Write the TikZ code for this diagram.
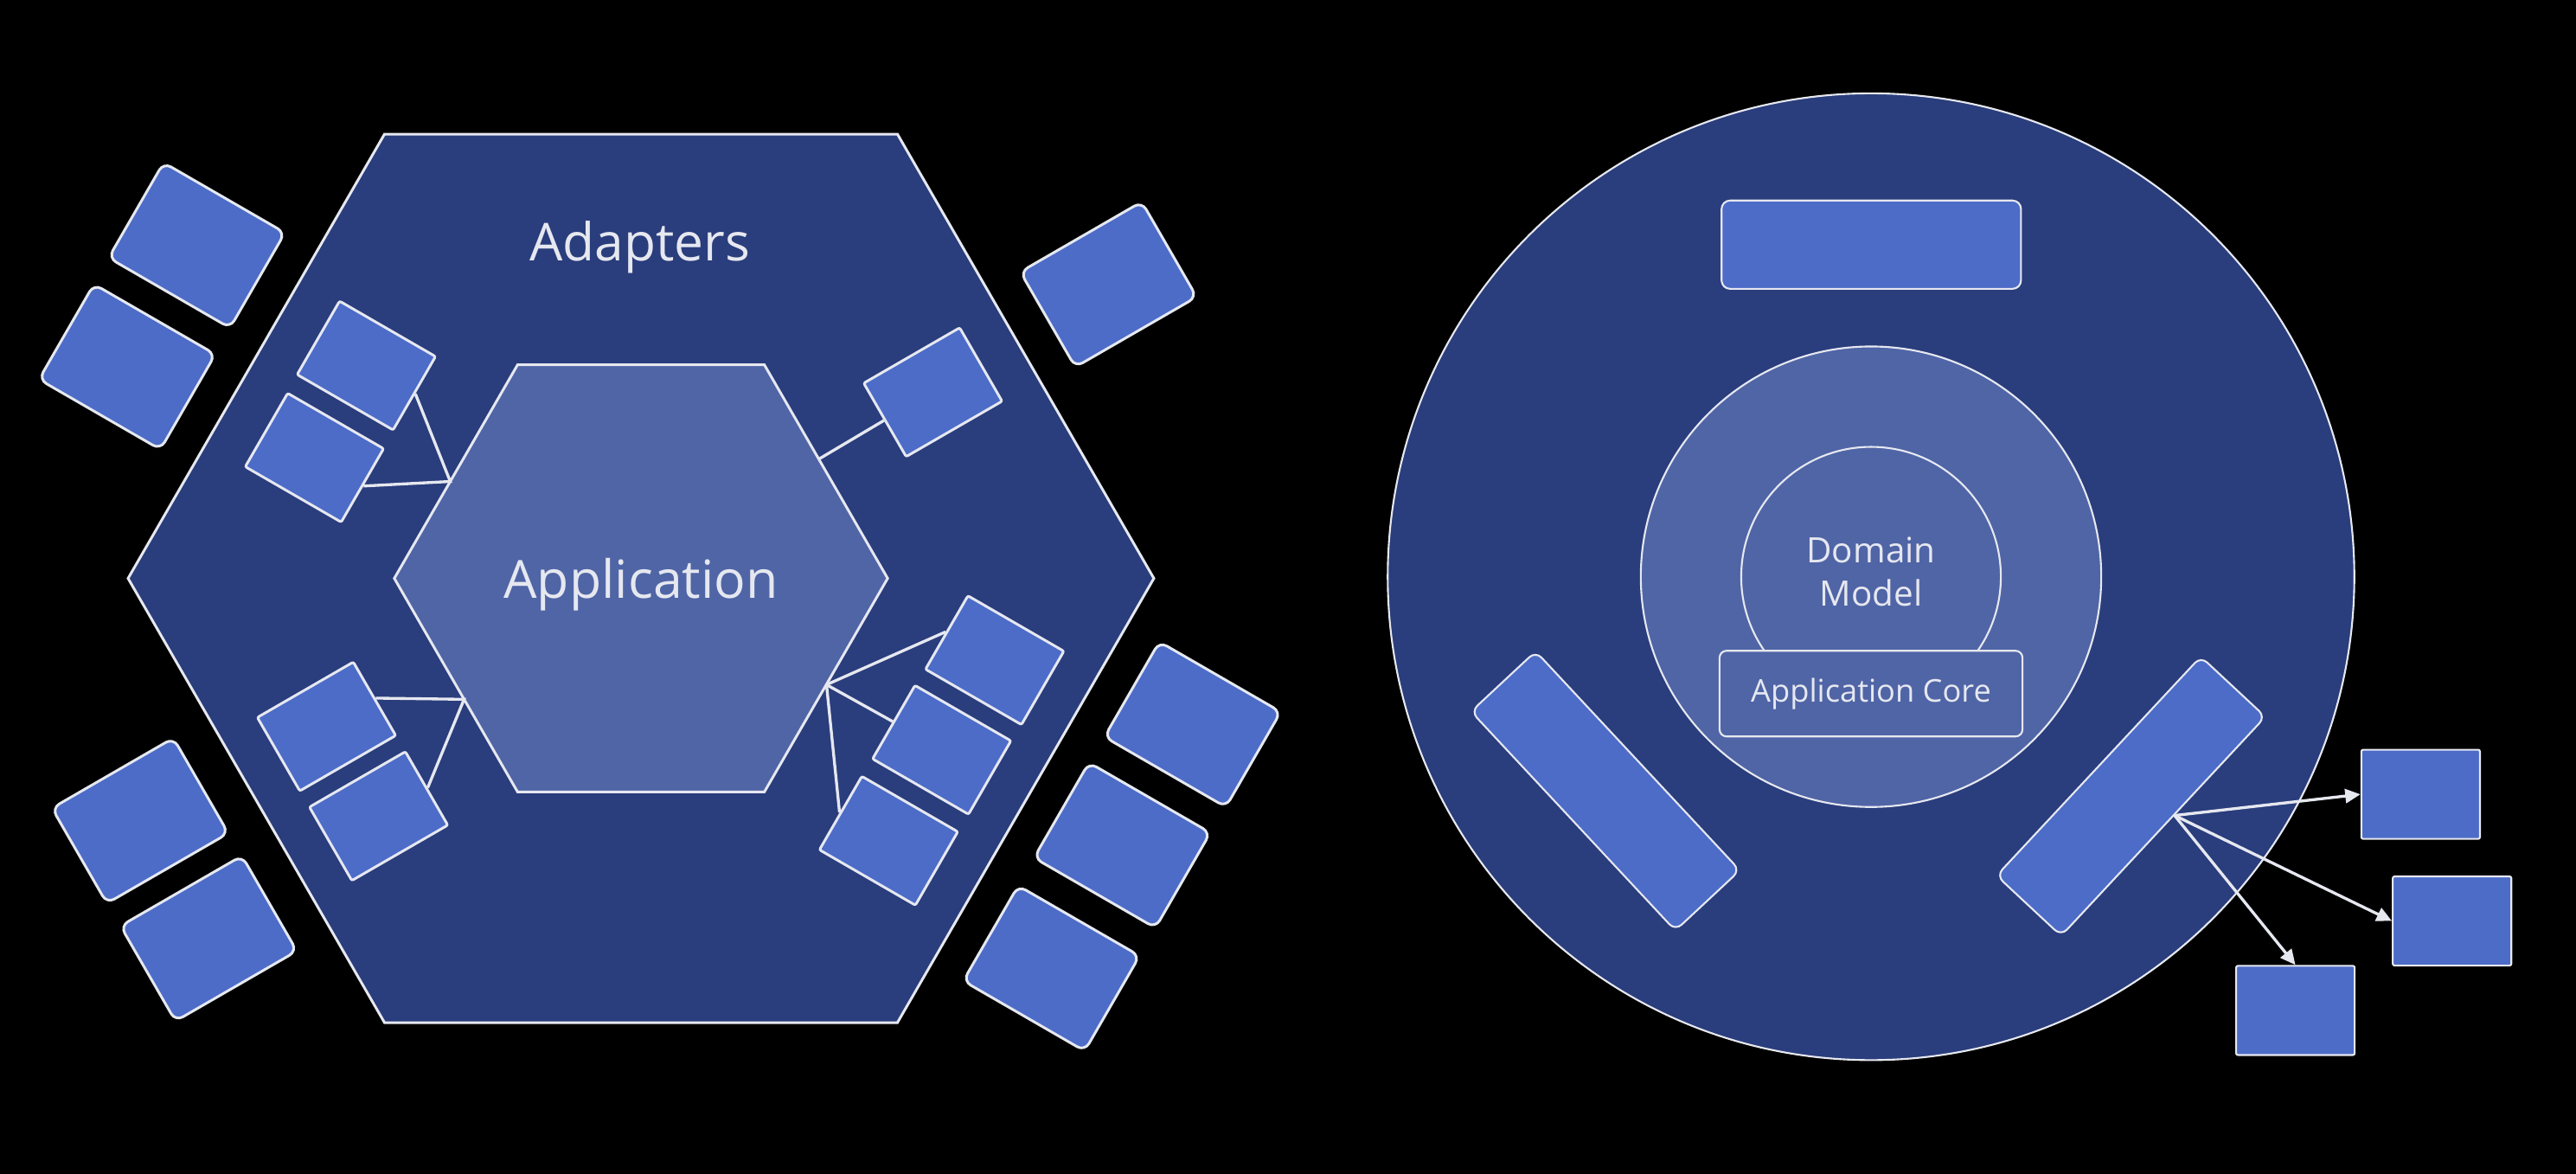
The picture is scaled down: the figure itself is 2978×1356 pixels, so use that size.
\documentclass[tikz,border=0pt]{standalone}
\usepackage{fontspec}
\setmainfont{Open Sans}
\usetikzlibrary{shapes.geometric,arrows.meta,calc}

\definecolor{navy}{HTML}{2A3D7C}
\definecolor{ringblue}{HTML}{5065A6}
\definecolor{boxblue}{HTML}{4C6CC8}
\definecolor{edgegray}{HTML}{E6E8F0}

\begin{document}
\begin{tikzpicture}[x=0.01cm,y=-0.01cm,
  rim/.style={draw=edgegray,line width=0.85pt},
  thinrim/.style={draw=edgegray,line width=0.6pt},
  hexa/.style={regular polygon,regular polygon sides=6,inner sep=0pt,rim},
  port/.style={rim,fill=boxblue,minimum width=1.28cm,minimum height=0.98cm,
    inner sep=0pt,rounded corners=0.6pt},
  extbox/.style={rim,fill=boxblue,minimum width=1.62cm,minimum height=1.27cm,
    inner sep=0pt,rounded corners=2.8pt},
  slab/.style={thinrim,fill=boxblue,minimum width=3.46cm,minimum height=1.02cm,
    inner sep=0pt,rounded corners=2.8pt},
  device/.style={thinrim,fill=boxblue,minimum width=1.37cm,minimum height=1.03cm,
    inner sep=0pt,rounded corners=0.6pt},
  wire/.style={draw=edgegray,line width=0.95pt},
  txt/.style={text=edgegray,inner sep=0pt},
]
% canvas
\useasboundingbox (0,0) rectangle (2978,1356);
\fill[black] (-20,-20) rectangle (2998,1376);

% ---------- hexagonal architecture ----------
\node[hexa,fill=navy,minimum size=11.852cm] (adapters) at (741,668.5) {};
\node[hexa,fill=ringblue,minimum size=5.70cm,text=edgegray,text depth=0pt,
  font=\fontsize{17.3}{20}\selectfont] (app) at (741,668.5) {Application};
\node[txt,anchor=base,font=\fontsize{17.2}{20}\selectfont] (adaptersText)
  at (740,301) {Adapters};

% ports inside the adapter ring
\node[port,rotate=-30] (pA) at (423.5,422.5) {};
\node[port,rotate=-30] (pB) at (363.5,529) {};
\node[port,rotate=30]  (pE) at (1078.5,453.3) {};
\node[port,rotate=30]  (pG) at (377.5,839.7) {};
\node[port,rotate=30]  (pH) at (437.7,943.3) {};
\node[port,rotate=-30] (pK) at (1149.9,763.1) {};
\node[port,rotate=-30] (pL) at (1088.7,866.7) {};
\node[port,rotate=-30] (pM) at (1027.3,971.8) {};

% external actors
\node[extbox,rotate=-30] (xC) at (227.5,283.5) {};
\node[extbox,rotate=-30] (xD) at (147,424) {};
\node[extbox,rotate=30]  (xF) at (1281.5,328.75) {};
\node[extbox,rotate=30]  (xI) at (162,948.6) {};
\node[extbox,rotate=30]  (xJ) at (241.25,1084.75) {};
\node[extbox,rotate=-30] (xN) at (1378.7,837.3) {};
\node[extbox,rotate=-30] (xO) at (1297.3,977) {};
\node[extbox,rotate=-30] (xP) at (1215.5,1119.3) {};

% attachment points on the application hexagon
\coordinate (hubNW) at (520.5,556.5);
\coordinate (hubNE) at (946.5,530.7);
\coordinate (hubSW) at (536.5,808.3);
\coordinate (hubSE) at (955.5,791.4);

\draw[wire] (pA.east) -- (hubNW) -- (pB.east);
\draw[wire] (pE.west) -- (hubNE);
\draw[wire] (pG.east) -- (hubSW) -- (pH.east);
\draw[wire] (pK.west) -- (hubSE);
\draw[wire] (pL.west) -- (hubSE);
\draw[wire] (pM.west) -- (hubSE);

% ---------- onion architecture ----------
\node[circle,thinrim,fill=navy,minimum size=11.168cm,inner sep=0pt] (outerRing) at (2163,666.6) {};
\node[circle,thinrim,fill=ringblue,minimum size=5.32cm,inner sep=0pt] (coreRing) at (2163,666.6) {};
\node[circle,thinrim,fill=ringblue,minimum size=3.0cm,inner sep=0pt] (domain) at (2163,666.6) {};
\node[txt,align=center,font=\fontsize{11.5}{14.2}\selectfont] (domainText)
  at (2163,660.4) {Domain\\Model};
\node[thinrim,fill=ringblue,minimum width=3.5cm,minimum height=0.99cm,
  rounded corners=2.3pt,inner sep=0pt,text=edgegray,
  font=\fontsize{10.3}{12}\selectfont] (appCore) at (2163,801.7) {Application Core};

\node[slab] (topSlab) at (2163.3,282.8) {};
\node[slab,rotate=-47] (leftSlab) at (1856,914.2) {};
\node[slab,rotate=47] (rightSlab) at (2463.5,920.3) {};

\node[device] (devQ) at (2798.4,918.1) {};
\node[device] (devR) at (2834.7,1064.5) {};
\node[device] (devS) at (2653.6,1167.9) {};

\coordinate (fan) at ($(rightSlab.south west)!0.552!(rightSlab.south east)$);
\draw[wire,-{Triangle[length=5pt,width=4.6pt]}] (fan) -- (devQ.west);
\draw[wire,-{Triangle[length=5pt,width=4.6pt]}] (fan) -- (devR.west);
\draw[wire,-{Triangle[length=5pt,width=4.6pt]}] (fan) -- (devS.north);
\end{tikzpicture}
\end{document}
